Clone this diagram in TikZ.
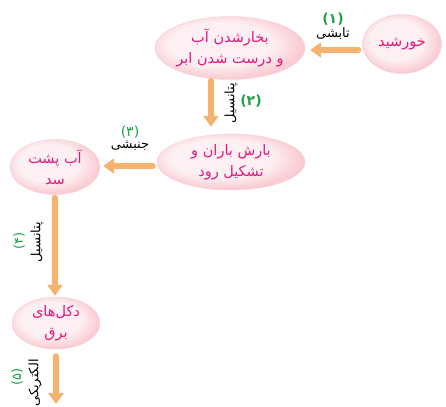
\documentclass[tikz,border=0pt]{standalone}
\usepackage{fontspec}
\usepackage{xcolor}
\usetikzlibrary{shapes.geometric, arrows.meta, positioning, calc}
\newfontfamily\fa[Script=Arabic]{DejaVu Sans}
\TeXXeTstate=1
\newcommand{\rl}[1]{\beginR#1\endR}
\definecolor{rim}{HTML}{F2AAB4}
\definecolor{mid}{HTML}{F9CDD3}
\definecolor{core}{HTML}{FDF0F2}
\definecolor{txt}{HTML}{E4187F}
\definecolor{flowc}{HTML}{F6B36F}
\definecolor{numc}{HTML}{1BA34A}
\pgfdeclareradialshading{stageshade}{\pgfpoint{-5bp}{5bp}}{%
  color(0bp)=(core); color(17bp)=(core); color(26bp)=(mid);
  color(31bp)=(mid); color(36bp)=(rim); color(50bp)=(rim)}

\begin{document}
\begin{tikzpicture}[x=1pt, y=-1pt,
    stage/.style={ellipse, shading=stageshade, draw=mid,
        text=txt, font=\fa\fontsize{14.5}{21}\selectfont, align=center, inner sep=-6pt},
    flow/.style={line width=6pt, flowc, line cap=round,
        -{Triangle[length=11pt, width=15pt]}},
    lbl/.style={font=\fa\fontsize{13}{15}\selectfont, inner sep=1pt},
    num/.style={font=\fa\fontsize{14}{16}\selectfont\bfseries, text=numc, inner sep=0pt}]
\useasboundingbox (0,0) rectangle (446,406);

% Stages of the energy chain
\node[stage, minimum width=79, minimum height=59] (sun) at (402,44) {\rl{خورشید}};
\node[stage, minimum width=150, minimum height=63] (cloud) at (230,48) {\rl{بخارشدن آب}\\\rl{و درست شدن ابر}};
\node[stage, minimum width=148, minimum height=56] (rain) at (231,162) {\rl{بارش باران و}\\\rl{تشکیل رود}};
\node[stage, minimum width=90, minimum height=55] (dam) at (55,167) {\rl{آب پشت}\\\rl{سد}};
\node[stage, minimum width=88, minimum height=52] (pylon) at (56,323) {\rl{دکل‌های}\\\rl{برق}};
\coordinate (out) at (56,404);

% Connectors
\draw[flow] ([shift={(-4,6)}]sun.west) -- ([shift={(5,2)}]cloud.east);
\draw[flow] ([shift={(-19,1)}]cloud.south) -- ([shift={(-20,-7)}]rain.north);
\draw[flow] ([shift={(-4,4)}]rain.west) -- ([shift={(3,-1)}]dam.east);
\draw[flow] ([shift={(0,3)}]dam.south) -- ([shift={(-1,-1)}]pylon.north);
\draw[flow] ([shift={(0,7)}]pylon.south) -- (out);

% Labels
\node[lbl] (l1) at (333,34) {\rl{تابشی}};
\node[num, above=1pt of l1] (n1) {(۱)};
\node[lbl, rotate=90] (l2) at (231,103) {\rl{پتانسیل}};
\node[num] (n2) at (251,101) {(۲)};
\node[lbl] (l3) at (130,146) {\rl{جنبشی}};
\node[num, font=\fa\fontsize{14}{16}\selectfont, above=1pt of l3] (n3) {(۳)};
\node[lbl, rotate=90] (l4) at (37,242) {\rl{پتانسیل}};
\node[num, font=\fa\fontsize{13}{15}\selectfont, rotate=90] (n4) at (19,241) {(۴)};
\node[lbl, rotate=90] (l5) at (35,383) {\rl{الکتریکی}};
\node[num, font=\fa\fontsize{13}{15}\selectfont, rotate=90] (n5) at (17,377) {(۵)};
\end{tikzpicture}
\end{document}
